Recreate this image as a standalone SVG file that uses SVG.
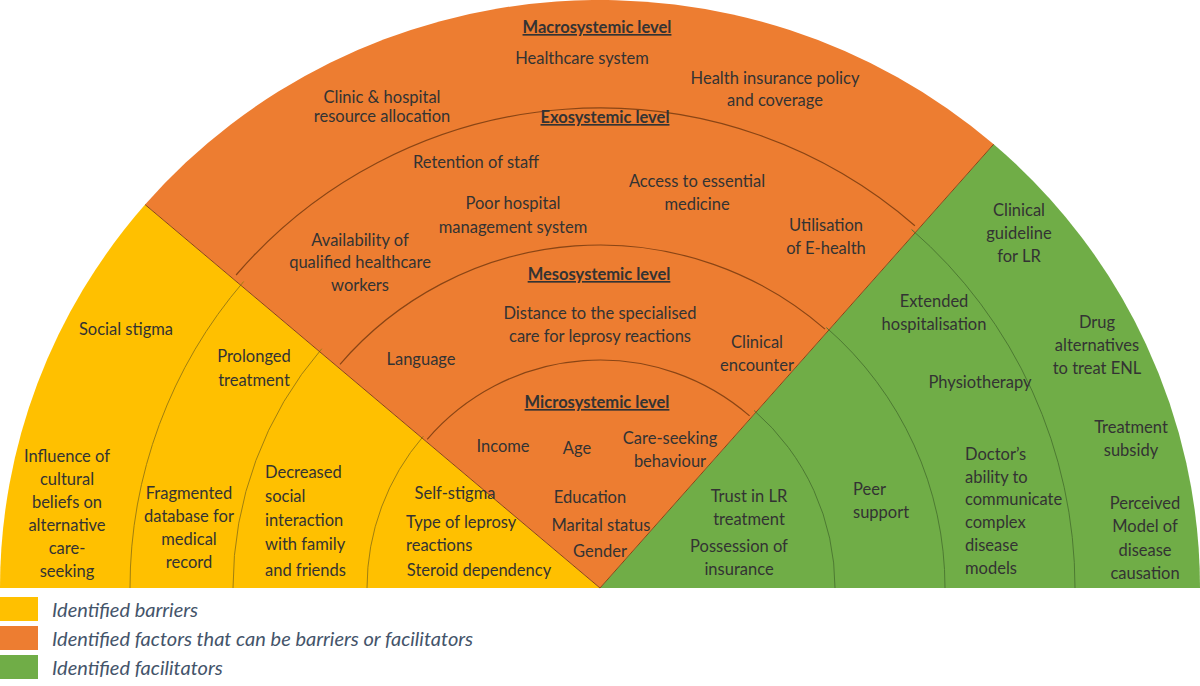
<svg xmlns="http://www.w3.org/2000/svg" width="1200" height="686" viewBox="0 0 1200 686">
<style>
text{font-family:Lato,"Open Sans","Liberation Sans",sans-serif;font-size:16.5px;fill:#333;text-anchor:middle}
.h{text-decoration:underline;font-weight:bold}
.s{text-anchor:start}
.lg{font-style:italic;font-size:20px;fill:#44546A;text-anchor:start}
.ay{fill:none;stroke:#a07f10;stroke-width:1}
.ao{fill:none;stroke:#8a4515;stroke-width:1.2}
.ag{fill:none;stroke:#4d7a32;stroke-width:1}
</style>
<rect width="1200" height="686" fill="#fff"/>
<g id="sectors">
<path d="M600 588 L0 588 A600 588 0 0 1 145.1 204.6 Z" fill="#FFC000"/>
<path d="M600 588 L145.1 204.6 A600 588 0 0 1 993.7 144.2 Z" fill="#ED7D31"/>
<path d="M600 588 L993.7 144.2 A600 588 0 0 1 1200 588 Z" fill="#70AD47"/>
</g>
<g id="connectors">
<path class="ay" d="M367 588 A233 233 0 0 1 423.4 436.1"/>
<path class="ay" d="M233 588 A367 367 0 0 1 321.8 348.7"/>
<path class="ay" d="M130 588 A470 470 0 0 1 243.7 281.5"/>
<path class="ao" d="M427.2 439.3 A228 228 0 0 1 749.6 415.9"/>
<path class="ao" d="M340 364.3 A343 343 0 0 1 825 329.1"/>
<path class="ao" d="M236.1 275 A480 480 0 0 1 914.9 225.7"/>
<path class="ag" d="M754.2 410.6 A235 235 0 0 1 835 588"/>
<path class="ag" d="M826.4 327.6 A345 345 0 0 1 945 588"/>
<path class="ag" d="M911.6 229.5 A475 475 0 0 1 1075 588"/>
<path d="M600 588 L145.1 204.6 M600 588 L993.7 144.2" stroke="#8a4515" stroke-width="1" fill="none"/>
</g>
<g id="macro">
<text class="h" x="597" y="33">Macrosystemic level</text>
<text x="582" y="64">Healthcare system</text>
<text x="775" y="84">Health insurance policy</text><text x="775" y="106">and coverage</text>
<text x="382" y="103">Clinic &amp; hospital</text><text x="382" y="122">resource allocation</text>
</g>
<g id="exo">
<text class="h" x="605" y="123">Exosystemic level</text>
<text x="476" y="168">Retention of staff</text>
<text x="513" y="209">Poor hospital</text><text x="513" y="233">management system</text>
<text x="697" y="187">Access to essential</text><text x="697" y="210">medicine</text>
<text x="826" y="231">Utilisation</text><text x="826" y="254">of E-health</text>
<text x="360" y="246">Availability of</text><text x="360" y="268">qualified healthcare</text><text x="360" y="291">workers</text>
</g>
<g id="meso">
<text class="h" x="599" y="280">Mesosystemic level</text>
<text x="600" y="319">Distance to the specialised</text><text x="600" y="342">care for leprosy reactions</text>
<text x="421" y="365">Language</text>
<text x="757" y="348">Clinical</text><text x="757" y="371">encounter</text>
</g>
<g id="micro">
<text class="h" x="597" y="408">Microsystemic level</text>
<text x="503" y="452">Income</text>
<text x="577" y="454">Age</text>
<text x="670" y="444">Care-seeking</text><text x="670" y="467">behaviour</text>
<text x="590" y="503">Education</text>
<text x="601" y="531">Marital status</text>
<text x="600" y="557">Gender</text>
</g>
<g id="barriers">
<text x="126" y="335">Social stigma</text>
<text x="254" y="362">Prolonged</text><text x="254" y="386">treatment</text>
<text x="67" y="462">Influence of</text><text x="67" y="485">cultural</text><text x="67" y="508">beliefs on</text><text x="67" y="531">alternative</text><text x="67" y="554">care-</text><text x="67" y="577">seeking</text>
<text x="189" y="499">Fragmented</text><text x="189" y="522">database for</text><text x="189" y="545">medical</text><text x="189" y="568">record</text>
<text class="s" x="265" y="478">Decreased</text><text class="s" x="265" y="502">social</text><text class="s" x="265" y="526">interaction</text><text class="s" x="265" y="550">with family</text><text class="s" x="265" y="576">and friends</text>
<text x="455" y="499">Self-stigma</text>
<text class="s" x="406" y="528">Type of leprosy</text><text class="s" x="406" y="551">reactions</text>
<text x="479" y="576">Steroid dependency</text>
</g>
<g id="facilitators">
<text x="1019" y="216">Clinical</text><text x="1019" y="239">guideline</text><text x="1019" y="262">for LR</text>
<text x="934" y="307">Extended</text><text x="934" y="330">hospitalisation</text>
<text x="1097" y="328">Drug</text><text x="1097" y="351">alternatives</text><text x="1097" y="374">to treat ENL</text>
<text x="980" y="388">Physiotherapy</text>
<text x="1131" y="433">Treatment</text><text x="1131" y="456">subsidy</text>
<text class="s" x="965" y="460">Doctor’s</text><text class="s" x="965" y="483">ability to</text><text class="s" x="965" y="505">communicate</text><text class="s" x="965" y="528">complex</text><text class="s" x="965" y="551">disease</text><text class="s" x="965" y="574">models</text>
<text class="s" x="853" y="495">Peer</text><text class="s" x="853" y="518">support</text>
<text x="749" y="502">Trust in LR</text><text x="749" y="525">treatment</text>
<text x="739" y="552">Possession of</text><text x="739" y="575">insurance</text>
<text x="1145" y="509">Perceived</text><text x="1145" y="532">Model of</text><text x="1145" y="556">disease</text><text x="1145" y="579">causation</text>
</g>
<g id="legend">
<rect x="0" y="597" width="38" height="24" fill="#FFC000"/>
<rect x="0" y="626" width="38" height="24" fill="#ED7D31"/>
<rect x="0" y="655" width="38" height="24" fill="#70AD47"/>
<text class="lg" x="52" y="617">Identified barriers</text>
<text class="lg" x="52" y="646">Identified factors that can be barriers or facilitators</text>
<text class="lg" x="52" y="675">Identified facilitators</text>
</g>
</svg>
